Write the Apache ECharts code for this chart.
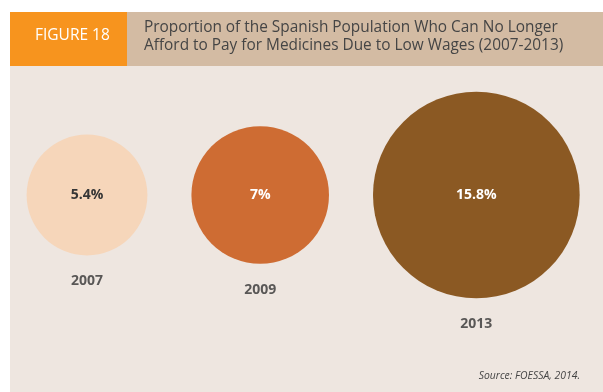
<!DOCTYPE html>
<html>
<head>
<meta charset="utf-8">
<script src="https://cdn.jsdelivr.net/npm/echarts@6/dist/echarts.min.js"></script>
<style>
  html, body { margin: 0; padding: 0; background: #ffffff; }
  #chart { width: 603px; height: 392px; }
</style>
</head>
<body>
<div id="chart"></div>
<script>
// Share of the population unable to afford medicines, by year
const years = ['2007', '2009', '2013'];
const shares = [5.4, 7, 15.8];
const valueLabels = ['5.4%', '7%', '15.8%'];
const bubbleColors = ['#F6D6BA', '#CE6C33', '#8B5923'];
const valueLabelColors = ['#363636', '#ffffff', '#ffffff'];

const figureTag = 'FIGURE 18';
const titleLines = [
  'Proportion of the Spanish Population Who Can No Longer',
  'Afford to Pay for Medicines Due to Low Wages (2007-2013)'
];
const sourceNote = 'Source: FOESSA, 2014.';

// Bubble area is proportional to the share
const RADIUS_K = 26;
const radius = v => RADIUS_K * Math.sqrt(v);

// Bubbles are packed left to right with an even gap between them
const FIRST_CENTER = 87;
const GAP = 44;
const centers = [];
shares.forEach((v, i) => {
  if (i === 0) centers.push(FIRST_CENTER);
  else centers.push(centers[i - 1] + radius(shares[i - 1]) + GAP + radius(v));
});

const bubbleData = shares.map((v, i) => ({
  value: [centers[i], 0, v],
  itemStyle: { color: bubbleColors[i] },
  label: { formatter: valueLabels[i], color: valueLabelColors[i] }
}));
const yearData = shares.map((v, i) => ({
  value: [centers[i], 0, v],
  label: { formatter: years[i] }
}));

const FONT = '"Open Sans", "Noto Sans", sans-serif';
const chart = echarts.init(document.getElementById('chart'), null, { renderer: 'canvas' });

chart.setOption({
  backgroundColor: '#ffffff',
  animation: false,
  graphic: [
    { type: 'rect', shape: { x: 10, y: 66, width: 593, height: 326 }, style: { fill: '#EEE6E0' }, z: -10 },
    { type: 'rect', shape: { x: 10, y: 12, width: 117, height: 54 }, style: { fill: '#F7941E' }, z: -10 },
    { type: 'rect', shape: { x: 127, y: 12, width: 476, height: 54 }, style: { fill: '#D3BBA3' }, z: -10 },
    {
      type: 'text', left: 35, top: 28,
      style: { text: figureTag, fill: '#ffffff', font: '15.5px ' + FONT }
    },
    {
      type: 'text', left: 144, top: 19,
      style: { text: titleLines.join('\n'), fill: '#454545', font: '15.4px ' + FONT, lineHeight: 18 }
    },
    {
      type: 'text', right: 23, top: 371,
      style: { text: sourceNote, fill: '#454545', font: 'italic 10.4px ' + FONT }
    }
  ],
  grid: { left: 0, right: 0, top: 95, height: 200, containLabel: false },
  xAxis: { type: 'value', min: 0, max: 603, show: false },
  yAxis: { type: 'value', min: -1, max: 1, show: false },
  series: [
    {
      type: 'scatter',
      data: bubbleData,
      symbolSize: d => 2 * radius(d[2]),
      itemStyle: { opacity: 1 },
      label: {
        show: true, position: 'inside',
        fontFamily: FONT, fontWeight: 'bold', fontSize: 14
      },
      z: 2
    },
    {
      type: 'scatter',
      data: yearData,
      symbolSize: d => 2 * radius(d[2]),
      itemStyle: { color: 'rgba(0,0,0,0)' },
      label: {
        show: true, position: 'bottom', distance: 19,
        color: '#333333', fontFamily: FONT, fontWeight: 'bold', fontSize: 14
      },
      silent: true,
      z: 3
    }
  ]
});
</script>
</body>
</html>
